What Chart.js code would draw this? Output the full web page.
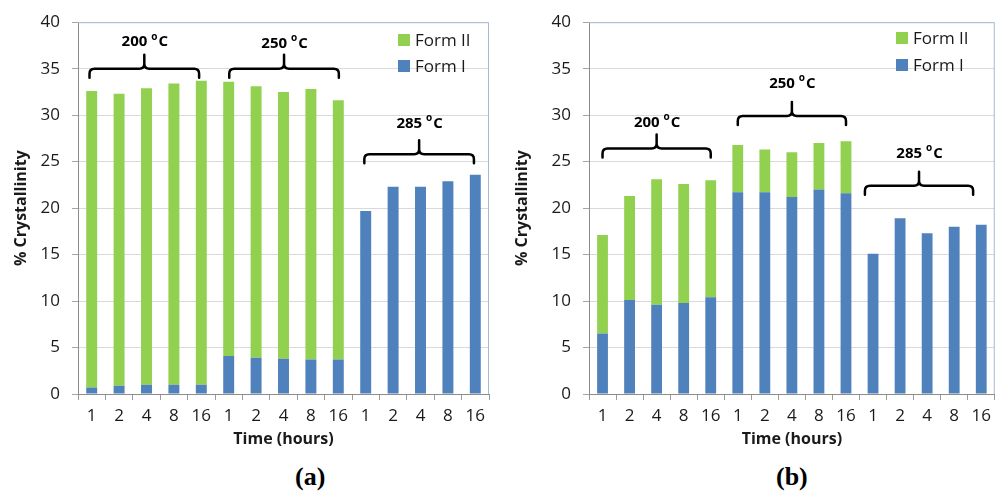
<!DOCTYPE html>
<html>
<head>
<meta charset="utf-8">
<script src="https://cdn.jsdelivr.net/npm/chart.js@4/dist/chart.umd.min.js"></script>
<style>
  body { margin: 0; background: #fff; }
  #wrap { position: relative; width: 997px; height: 491px; overflow: hidden; }
  .pane { position: absolute; top: 0; height: 450px; }
  .cap { position: absolute; top: 462px; font: bold 26px "Liberation Serif", serif; color: #000; }
</style>
</head>
<body>
<div id="wrap">
  <div class="pane" style="left:0;width:497px"><canvas id="chartA"></canvas></div>
  <div class="pane" style="left:497px;width:500px"><canvas id="chartB"></canvas></div>
  <div class="cap" style="left:295px">(a)</div>
  <div class="cap" style="left:776px">(b)</div>
</div>
<script>
// time labels, three temperature groups of five
var timeLabels = ['1', '2', '4', '8', '16', '1', '2', '4', '8', '16', '1', '2', '4', '8', '16'];

// panel (a)
var formIa = [0.7, 0.9, 1.0, 1.0, 1.0, 4.1, 3.9, 3.8, 3.7, 3.7, 19.7, 22.3, 22.3, 22.9, 23.6];
var formIIa = [31.9, 31.4, 31.9, 32.4, 32.7, 29.5, 29.2, 28.7, 29.1, 27.9, 0, 0, 0, 0, 0];

// panel (b)
var formIb = [6.5, 10.1, 9.6, 9.8, 10.4, 21.7, 21.7, 21.2, 22.0, 21.6, 15.1, 18.9, 17.3, 18.0, 18.2];
var formIIb = [10.6, 11.2, 13.5, 12.8, 12.6, 5.1, 4.6, 4.8, 5.0, 5.6, 0, 0, 0, 0, 0];

// temperature brackets
var groupTemps = ['200', '250', '285'];
var groupFirst = [0, 5, 10];
var groupLast = [4, 9, 14];
var bracketLevelA = [35.0, 35.0, 25.8];
var labelLevelA = [37.9, 37.7, 29.1];
var bracketLevelB = [26.4, 29.9, 22.4];
var labelLevelB = [29.2, 33.4, 25.9];

var GREEN = '#92D050';
var BLUE = '#4F81BD';
var FONT = '"Open Sans", "Liberation Sans", sans-serif';

var annotPlugin = {
    id: 'annot',
    afterDraw: function (chart, args, opts) {
        var ctx = chart.ctx;
        var area = chart.chartArea;
        var xs = chart.scales.x, ys = chart.scales.y;
        ctx.save();
        // plot area frame top + right
        ctx.strokeStyle = '#A7B9D3';
        ctx.lineWidth = 1;
        ctx.beginPath();
        ctx.moveTo(area.left, area.top + 0.5);
        ctx.lineTo(area.right - 0.5, area.top + 0.5);
        ctx.lineTo(area.right - 0.5, area.bottom);
        ctx.stroke();

        // legend
        var items = [['Form II', GREEN], ['Form I', BLUE]];
        ctx.font = '17px ' + FONT;
        ctx.textBaseline = 'middle';
        ctx.textAlign = 'left';
        for (var i = 0; i < items.length; i++) {
            var cy = opts.legendY[i];
            ctx.fillStyle = items[i][1];
            ctx.fillRect(opts.legendX, cy - 6, 12, 12);
            ctx.fillStyle = '#1a1a1a';
            ctx.fillText(items[i][0], opts.legendX + 17, cy + 1);
        }

        // brackets
        ctx.strokeStyle = '#000';
        ctx.lineWidth = 2.5;
        ctx.lineCap = 'round';
        var r = 5, drop = 9, peak = 14;
        for (var g = 0; g < groupTemps.length; g++) {
            var x0 = xs.getPixelForValue(groupFirst[g] + opts.shift[g]);
            var x1 = xs.getPixelForValue(groupLast[g] + opts.shift[g]);
            var xm = (x0 + x1) / 2;
            var yl = ys.getPixelForValue(opts.levels[g]);
            ctx.beginPath();
            ctx.moveTo(x0, yl + drop);
            ctx.lineTo(x0, yl + r);
            ctx.quadraticCurveTo(x0, yl, x0 + r, yl);
            ctx.lineTo(xm - r, yl);
            ctx.quadraticCurveTo(xm, yl, xm, yl - r);
            ctx.lineTo(xm, yl - peak);
            ctx.moveTo(xm, yl - r);
            ctx.quadraticCurveTo(xm, yl, xm + r, yl);
            ctx.lineTo(x1 - r, yl);
            ctx.quadraticCurveTo(x1, yl, x1, yl + r);
            ctx.lineTo(x1, yl + drop);
            ctx.stroke();

            // "200 °C" with a raised small o
            var ty = ys.getPixelForValue(opts.labels[g]);
            var big = 'bold 15px ' + FONT, small = 'bold 10px ' + FONT;
            ctx.font = big;
            var w1 = ctx.measureText(groupTemps[g] + ' ').width;
            var w3 = ctx.measureText('C').width;
            ctx.font = small;
            var w2 = ctx.measureText('o').width;
            var sx = xm - (w1 + w2 + w3) / 2;
            ctx.fillStyle = '#000';
            ctx.textBaseline = 'middle';
            ctx.font = big;
            ctx.fillText(groupTemps[g] + ' ', sx, ty);
            ctx.font = small;
            ctx.fillText('o', sx + w1, ty - 5);
            ctx.font = big;
            ctx.fillText('C', sx + w1 + w2 + 1, ty);
        }
        ctx.restore();
    }
};

function makeChart(id, formI, formII, yWidth, padRight, titlePad, plug) {
    var ctx = document.getElementById(id).getContext('2d');
    return new Chart(ctx, {
        type: 'bar',
        data: {
            labels: timeLabels,
            datasets: [
                { label: 'Form I', data: formI, backgroundColor: BLUE, barPercentage: 0.4, categoryPercentage: 1.0 },
                { label: 'Form II', data: formII, backgroundColor: GREEN, barPercentage: 0.4, categoryPercentage: 1.0 }
            ]
        },
        options: {
            responsive: true,
            maintainAspectRatio: false,
            animation: false,
            layout: { padding: { left: 0, right: padRight, top: 21, bottom: 0 } },
            plugins: {
                legend: { display: false },
                tooltip: { enabled: false },
                annot: plug
            },
            scales: {
                x: {
                    stacked: true,
                    grid: { display: true, drawOnChartArea: false, drawTicks: true, tickLength: 6, tickColor: '#9a9a9a', offset: true },
                    border: { display: true, color: '#8c8c8c' },
                    ticks: { color: '#1a1a1a', font: { family: FONT, size: 17 }, padding: 6, maxRotation: 0, autoSkip: false },
                    title: { display: true, text: 'Time (hours)', color: '#1a1a1a', font: { family: FONT, size: 16, weight: 'bold' }, padding: { top: 0, bottom: 1 } },
                    afterFit: function (s) { s.height = 56; }
                },
                y: {
                    stacked: true,
                    min: 0,
                    max: 40,
                    ticks: { stepSize: 5, color: '#1a1a1a', font: { family: FONT, size: 17 }, padding: 12 },
                    grid: { color: '#D9D9D9', tickColor: '#A6A6A6', tickLength: 6 },
                    border: { display: true, color: '#8c8c8c' },
                    title: { display: true, text: '% Crystallinity', color: '#1a1a1a', font: { family: FONT, size: 16, weight: 'bold' }, padding: { top: titlePad, bottom: 0 } },
                    afterFit: function (s) { s.width = yWidth; }
                }
            }
        },
        plugins: [annotPlugin]
    });
}

makeChart('chartA', formIa, formIIa, 78, 8, 12, {
    legendX: 398, legendY: [40, 66],
    levels: bracketLevelA, labels: labelLevelA, shift: [-0.08, 0.02, -0.05]
});
makeChart('chartB', formIb, formIIb, 92, 1, 16, {
    legendX: 399, legendY: [38, 65],
    levels: bracketLevelB, labels: labelLevelB, shift: [0, 0, -0.3]
});
</script>
</body>
</html>
